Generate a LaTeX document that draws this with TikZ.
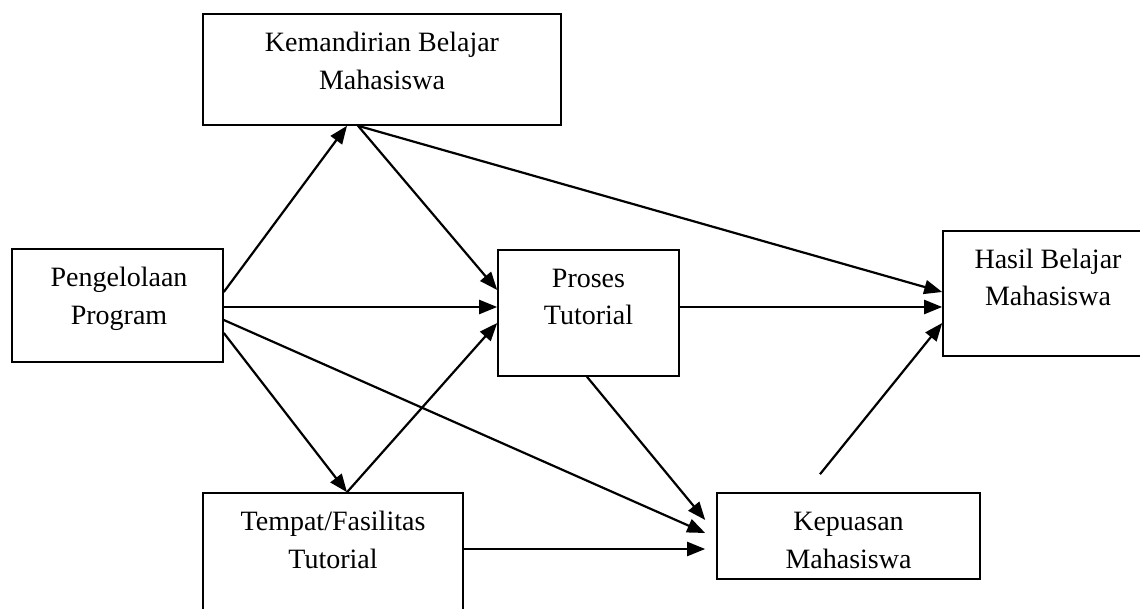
\documentclass[tikz,border=0pt]{standalone}
\usepackage{fontspec}
\setmainfont{Liberation Serif}
\usetikzlibrary{arrows.meta,calc}
\begin{document}
\begin{tikzpicture}[x=1pt,y=-1pt,
  box/.style={draw,line width=1.6pt,inner sep=0pt},
  lab/.style={font=\fontsize{28}{37.5}\selectfont,align=center,anchor=base,inner sep=0pt},
  arr/.style={line width=2.2pt,-{Triangle[length=18pt,width=14pt]}}]
\useasboundingbox (0,0) rectangle (1140,609);
\clip (0,0) rectangle (1140,609);
\fill[white] (0,0) rectangle (1140,609);
% boxes
\node[box,minimum width=358pt,minimum height=111pt] (kem) at (382,69.5) {};
\node[lab] (kemt) at (382,89.5) {Kemandirian Belajar\\Mahasiswa};
\node[box,minimum width=211pt,minimum height=113pt] (pen) at (117.5,305.5) {};
\node[lab] (pent) at (119,324.5) {Pengelolaan\\Program};
\node[box,minimum width=181pt,minimum height=126pt] (pro) at (588.5,313) {};
\node[lab] (prot) at (588.5,325) {Proses\\Tutorial};
\node[box,minimum width=210pt,minimum height=125pt] (has) at (1048,293.5) {};
\node[lab] (hast) at (1048,306) {Hasil Belajar\\Mahasiswa};
\node[box,minimum width=260pt,minimum height=127pt] (tem) at (333,556.5) {};
\node[lab] (temt) at (333,568) {Tempat/Fasilitas\\Tutorial};
\node[box,minimum width=263pt,minimum height=86pt] (kep) at (848.5,536) {};
\node[lab] (kept) at (848.5,568) {Kepuasan\\Mahasiswa};
\coordinate (kq) at ([xshift=-28.5pt,yshift=18pt]kep.north);
% arrows
\draw[arr] ([yshift=13.5pt]pen.east) -- ([xshift=-35pt]kem.south);
\draw[arr] ([yshift=-1.5pt]pen.east) -- ([yshift=6pt]pro.west);
\draw[arr] ([yshift=-14.5pt]pen.east) -- ([xshift=-11pt,yshift=3pt]kep.west);
\draw[arr] ([yshift=-27.5pt]pen.east) -- ([xshift=14pt]tem.north);
\draw[arr] ([xshift=-24pt]kem.south) -- ([yshift=23pt]pro.west);
\draw[arr] ([xshift=-24pt]kem.south) -- ([yshift=1.5pt]has.west);
\draw[arr] ([xshift=14pt]tem.north) -- ([yshift=-10pt]pro.west);
\draw[arr] ([yshift=6pt]pro.east) -- ([yshift=-13.5pt]has.west);
\draw[arr] ([xshift=-1.5pt]pro.south) -- ([xshift=-11pt,yshift=16pt]kep.west);
\draw[arr] (kq) -- ([yshift=-29.5pt]has.west);
\draw[arr] ([yshift=7.5pt]tem.east) -- ([xshift=-11pt,yshift=-13pt]kep.west);
\end{tikzpicture}
\end{document}
